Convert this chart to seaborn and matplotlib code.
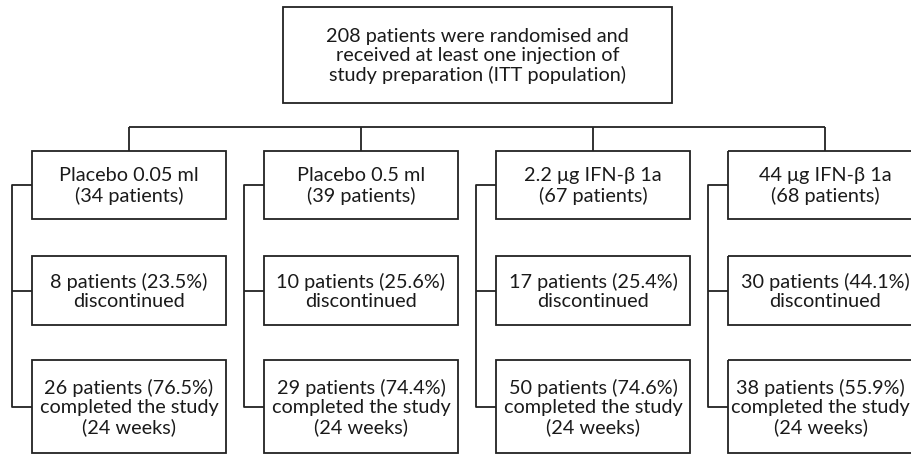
import matplotlib
matplotlib.use("Agg")
import matplotlib.pyplot as plt
from matplotlib.patches import Rectangle
import seaborn as sns

# ---- data ----
total_patients = 208
groups = ["Placebo 0.05 ml", "Placebo 0.5 ml", "2.2 \u03bcg IFN-\u03b2 1a", "44 \u03bcg IFN-\u03b2 1a"]
group_n = [34, 39, 67, 68]
discontinued_n = [8, 10, 17, 30]
discontinued_pct = [23.5, 25.6, 25.4, 44.1]
completed_n = [26, 29, 50, 38]
completed_pct = [76.5, 74.4, 74.6, 55.9]
study_weeks = 24

sns.set_theme(style="white")
plt.rcParams['font.family'] = ['Lato', 'DejaVu Sans']

W, H = 912, 455
fig = plt.figure(figsize=(W / 100, H / 100), dpi=100)
ax = fig.add_axes([0, 0, 1, 1])
ax.set_xlim(0, W)
ax.set_ylim(H, 0)
ax.axis("off")

LC = "#222222"
LW = 1.3
FS = 14.3
TC = "#1a1a1a"
texts = []


def box(x0, y0, x1, y1, text):
    ax.add_patch(Rectangle((x0, y0), x1 - x0, y1 - y0, fill=False,
                           edgecolor=LC, linewidth=LW, clip_on=True))
    t = ax.text((x0 + x1) / 2, (y0 + y1) / 2 + 1, text, ha="center", va="center",
                fontsize=FS, color=TC, linespacing=1.15)
    texts.append(t)


def line(xs, ys):
    ax.plot(xs, ys, color=LC, linewidth=LW, solid_capstyle="butt")


# top box
box(283, 7, 672, 103,
    f"{total_patients} patients were randomised and\n"
    "received at least one injection of\n"
    "study preparation (ITT population)")

start, step, half = 129, 232, 97
centers = [start + step * i for i in range(len(groups))]

# horizontal connector
line([centers[0], centers[-1]], [127, 127])

for i, cx in enumerate(centers):
    line([cx, cx], [127, 151])
    x0, x1 = cx - half, cx + half
    box(x0, 151, x1, 219, f"{groups[i]}\n({group_n[i]} patients)")
    box(x0, 256, x1, 325,
        f"{discontinued_n[i]} patients ({discontinued_pct[i]}%)\ndiscontinued")
    box(x0, 360, x1, 453,
        f"{completed_n[i]} patients ({completed_pct[i]}%)\n"
        f"completed the study\n({study_weeks} weeks)")
    sx = x0 - 20
    line([x0, sx, sx, x0], [185, 185, 407, 407])
    line([sx, x0], [290.5, 290.5])

# keep text inside the figure edge (box 4 runs past the right border)
fig.canvas.draw()
renderer = fig.canvas.get_renderer()
for t in texts:
    bb = t.get_window_extent(renderer)
    if bb.x1 > W - 2:
        x, y = t.get_position()
        t.set_position((x - (bb.x1 - (W - 2)), y))

fig.savefig("out.png", dpi=100)
